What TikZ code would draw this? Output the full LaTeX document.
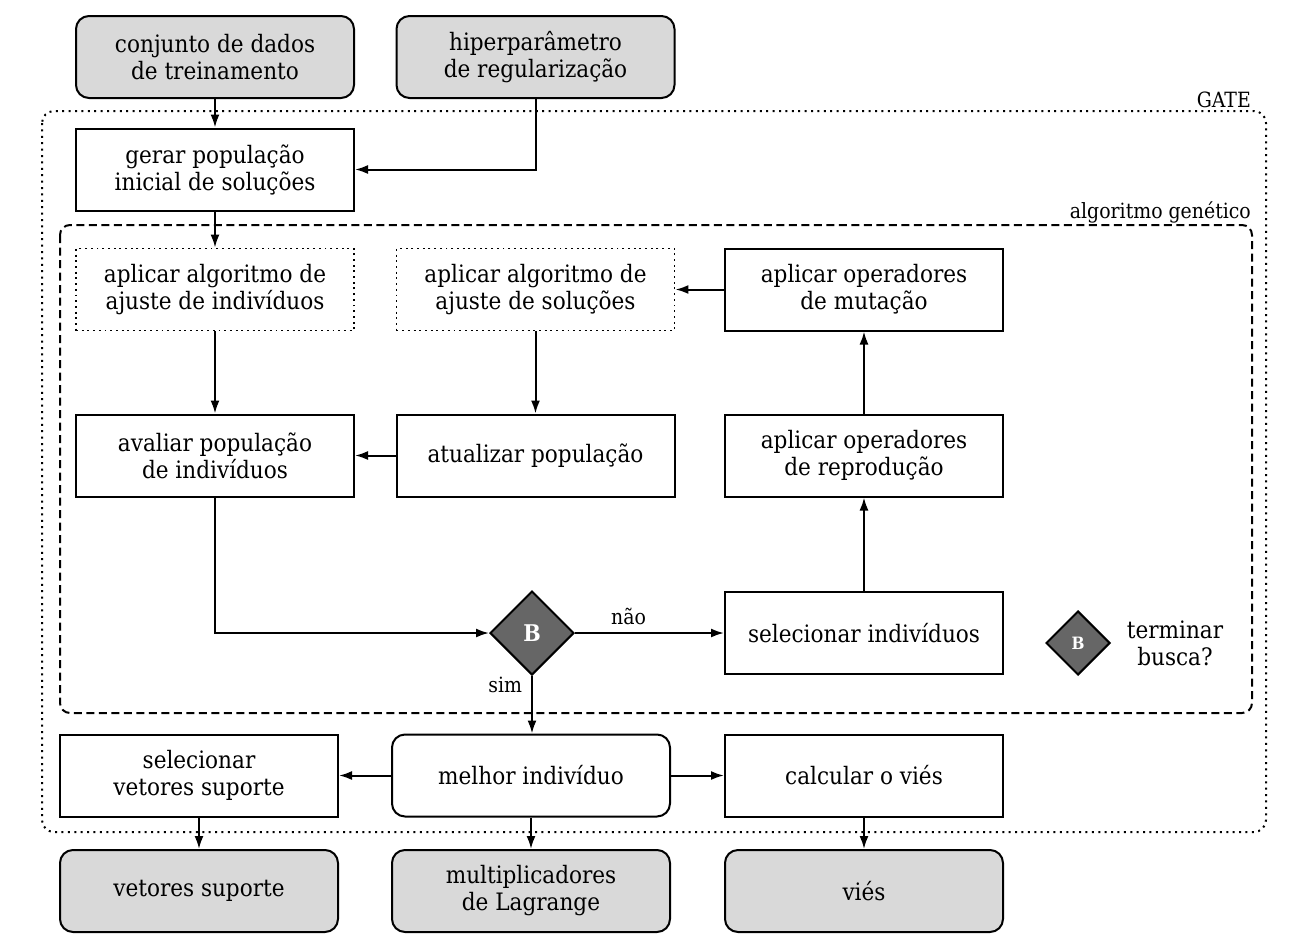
\documentclass[tikz,border=0pt]{standalone}
\usepackage{fontspec}
\setmainfont{DejaVu Serif Condensed}
\usetikzlibrary{arrows.meta,shapes.geometric}
\definecolor{boxgray}{HTML}{D9D9D9}
\definecolor{dgray}{HTML}{666666}
\tikzset{
  base/.style={draw, line width=2pt, minimum width=278pt, minimum height=82pt, align=center, inner sep=0pt, font=\fontsize{24}{27}\selectfont},
  plain/.style={base},
  grayb/.style={base, fill=boxgray, rounded corners=13pt},
  rnd/.style={base, rounded corners=13pt},
  dotb/.style={base, line width=1.9pt, dash pattern=on 1.9pt off 3.8pt},
  dec/.style={diamond, draw, line width=2pt, fill=dgray, text=white, inner sep=0pt, minimum width=84pt, minimum height=84pt, font=\fontsize{23}{24}\selectfont\bfseries},
  arr/.style={line width=2pt, -{Latex[length=13pt,width=9pt]}},
  lbl/.style={font=\fontsize{21}{24}\selectfont, inner sep=0pt},
  txt/.style={font=\fontsize{24}{27}\selectfont, align=center, inner sep=0pt}
}
\begin{document}
\begin{tikzpicture}[x=1pt,y=-1pt]
\useasboundingbox (0,0) rectangle (1296,946);
% containers
\draw[line width=2pt, dash pattern=on 2pt off 4.4pt, rounded corners=12pt] (42,111) rectangle (1266,832);
\node[lbl, anchor=base east] (gatel) at (1251,107) {GATE};
\draw[line width=2pt, dash pattern=on 8pt off 4.5pt, rounded corners=10pt] (60,225) rectangle (1252,713);
\node[lbl, anchor=base east] (agl) at (1251,218) {algoritmo genético};
% nodes
\node[grayb] (conj) at (215,57) {conjunto de dados\\de treinamento};
\node[grayb] (hiper) at (535.5,57) {hiperparâmetro\\de regularização};
\node[plain] (gerar) at (215,169.5) {gerar população\\inicial de soluções};
\node[dotb] (ajind) at (215,289.5) {aplicar algoritmo de\\ajuste de indivíduos};
\node[dotb] (ajsol) at (535.5,289.5) {aplicar algoritmo de\\ajuste de soluções};
\node[plain] (mut) at (864,289.5) {aplicar operadores\\de mutação};
\node[plain] (aval) at (215,455.5) {avaliar população\\de indivíduos};
\node[plain] (atual) at (535.5,455.5) {atualizar população};
\node[plain] (repr) at (864,455.5) {aplicar operadores\\de reprodução};
\node[dec] (B) at (532,633) {B};
\node[plain] (sel) at (864,633) {selecionar indivíduos};
\node[dec, minimum width=64pt, minimum height=64pt, font=\fontsize{17}{18}\selectfont\bfseries] (legB) at (1078,643) {B};
\node[txt] (legt) at (1175,643) {terminar\\busca?};
\node[rnd] (melhor) at (531,775.5) {melhor indivíduo};
\node[plain] (selvet) at (199,775.5) {selecionar\\vetores suporte};
\node[plain] (calc) at (864,775.5) {calcular o viés};
\node[grayb] (vet) at (199,891) {vetores suporte};
\node[grayb] (mult) at (531,891) {multiplicadores\\de Lagrange};
\node[grayb] (vies) at (864,891) {viés};
% connectors
\draw[arr] (conj.south) -- (gerar.north);
\draw[arr] (hiper.south) |- (gerar.east);
\draw[arr] (gerar.south) -- (ajind.north);
\draw[arr] (mut.west) -- (ajsol.east);
\draw[arr] (ajind.south) -- (aval.north);
\draw[arr] (ajsol.south) -- (atual.north);
\draw[arr] (atual.west) -- (aval.east);
\draw[arr] (repr.north) -- (mut.south);
\draw[arr] (aval.south) |- (B.west);
\draw[arr] (B.east) -- node[lbl, pos=0.36, above=7pt] (nao) {não} (sel.west);
\draw[arr] (sel.north) -- (repr.south);
\draw[arr] (B.south) -- node[lbl, pos=0.15, left=9pt] (sim) {sim} (B.south |- melhor.north);
\draw[arr] (melhor.west) -- (selvet.east);
\draw[arr] (melhor.east) -- (calc.west);
\draw[arr] (selvet.south) -- (vet.north);
\draw[arr] (melhor.south) -- (mult.north);
\draw[arr] (calc.south) -- (vies.north);
\end{tikzpicture}
\end{document}
